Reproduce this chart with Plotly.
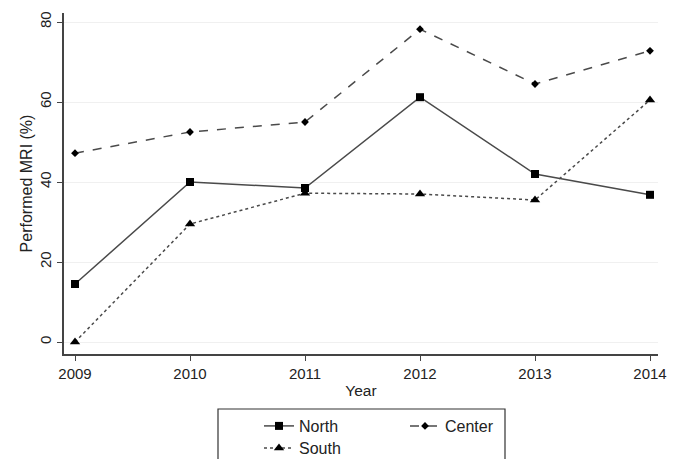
import plotly.graph_objects as go

years = [2009, 2010, 2011, 2012, 2013, 2014]
north = [14.5, 40.0, 38.5, 61.2, 42.0, 36.8]
center = [47.2, 52.5, 55.0, 78.2, 64.5, 72.8]
south = [0.0, 29.5, 37.2, 37.0, 35.5, 60.5]
y_ticks = [0, 20, 40, 60, 80]

# page has an 8px body margin; figure occupies page (8..678, 8..459)
OFF = 8
W, H = 678 - OFF, 459 - OFF
L, R, T, B = 64 - OFF, 20, 13 - OFF, 105
pw = W - L - R
ph = H - T - B

def px_x(p):  # page pixel -> paper x
    return (p - 64) / pw

def px_y(p):  # page pixel -> paper y
    return (354 - p) / ph

line_col = "#4a4a4a"
fig = go.Figure()
fig.add_trace(go.Scatter(x=years, y=north, name="North", mode="lines+markers",
                         line=dict(color=line_col, width=1.5, dash="solid"),
                         marker=dict(symbol="square", size=8, color="black"),
                         legend="legend"))
fig.add_trace(go.Scatter(x=years, y=center, name="Center", mode="lines+markers",
                         line=dict(color=line_col, width=1.5, dash="dash"),
                         marker=dict(symbol="diamond", size=6, color="black"),
                         legend="legend"))
fig.add_trace(go.Scatter(x=years, y=south, name="South", mode="lines+markers",
                         line=dict(color=line_col, width=1.5, dash="dot"),
                         marker=dict(symbol="triangle-up", size=9, color="black"),
                         legend="legend2"))

font = dict(family="Liberation Sans, Arial, sans-serif", size=15, color="#222")

fig.update_layout(
    width=W, height=H,
    margin=dict(l=L, r=R, t=T, b=B, autoexpand=False),
    paper_bgcolor="white", plot_bgcolor="white",
    font=font,
    showlegend=True,
    legend=dict(orientation="h", x=px_x(259), xanchor="left", y=px_y(409), yanchor="top",
                entrywidth=101, font=dict(size=16), bgcolor="rgba(0,0,0,0)"),
    legend2=dict(orientation="h", x=px_x(259), xanchor="left", y=px_y(431), yanchor="top",
                 font=dict(size=16), bgcolor="rgba(0,0,0,0)"),
    xaxis=dict(range=[2009 - 11 / 115, 2014 + 8 / 115], tickmode="array", tickvals=years,
               ticktext=[str(y) for y in years], ticks="outside", ticklen=5, tickcolor="#444",
               showline=True, linecolor="#444", linewidth=1.5, showgrid=False, zeroline=False,
               automargin=False,
               title=dict(text="Year", standoff=4, font=dict(size=15.5)), tickfont=dict(size=15)),
    yaxis=dict(range=[-3, 82.25], tickmode="array", tickvals=y_ticks,
               ticks="outside", ticklen=5, tickcolor="#444", tickangle=-90,
               showline=True, linecolor="#444", linewidth=1.5,
               showgrid=True, gridcolor="#f0f0f0", gridwidth=1, zeroline=False,
               automargin=False,
               title=dict(text="Performed MRI (%)", standoff=1, font=dict(size=16)),
               tickfont=dict(size=15)),
    shapes=[dict(type="rect", xref="paper", yref="paper",
                 x0=px_x(218), x1=px_x(505), y0=px_y(409), y1=px_y(475),
                 line=dict(color="#333", width=1.2), fillcolor="rgba(0,0,0,0)")],
)

fig.write_html("out.html")
